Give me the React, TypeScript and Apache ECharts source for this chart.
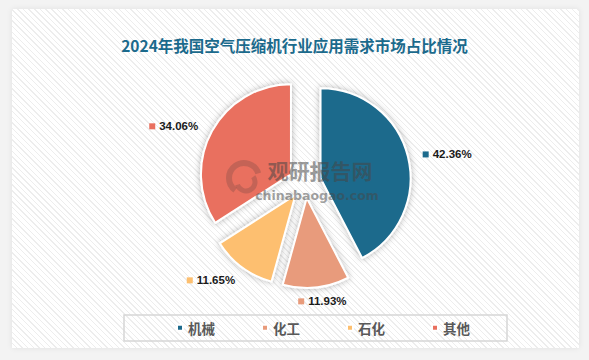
import React, { useEffect, useRef } from 'react';
import * as echarts from 'echarts';

const categories = ['机械', '化工', '石化', '其他'];
const shares = [42.36, 11.93, 11.65, 34.06];
const colors = ['#1c6a8c', '#e89b7b', '#fdbf6f', '#e9705f'];
const titleText = '2024年我国空气压缩机行业应用需求市场占比情况';
const watermarkMain = '观研报告网';
const watermarkSub = 'chinabaogao.com';

export default function App() {
  const ref = useRef<HTMLDivElement>(null);
  useEffect(() => {
    const chart = echarts.init(ref.current!, undefined, { renderer: 'svg' });
    const rich: any = {
      v: {
        fontSize: 11.5,
        fontWeight: 'bold',
        color: '#1a1a1a',
        fontFamily: '"Liberation Sans", Arial, sans-serif',
        padding: [0, 0, 0, 4],
        verticalAlign: 'middle',
      },
    };
    colors.forEach((c, i) => {
      rich['m' + i] = { width: 6, height: 6, backgroundColor: c, verticalAlign: 'middle' };
    });
    chart.setOption({
      animation: false,
      color: colors,
      title: {
        text: titleText,
        left: 'center',
        top: 32,
        textStyle: {
          fontSize: 15.5,
          fontWeight: 'bold',
          color: '#1b6a8c',
          fontFamily: '"Noto Sans CJK SC", sans-serif',
        },
      },
      legend: {
        data: categories,
        left: 176,
        top: 321,
        padding: 0,
        icon: 'rect',
        itemWidth: 6,
        itemHeight: 6,
        itemGap: 46,
        selectedMode: false,
        textStyle: {
          fontSize: 13.5,
          fontWeight: 'bold',
          color: '#595959',
          fontFamily: '"Noto Sans CJK SC", sans-serif',
        },
      },
      graphic: [
        {
          type: 'rect',
          z: -1,
          shape: { x: 124, y: 315, width: 383, height: 26 },
          style: { fill: 'none', stroke: '#d6d6d6', lineWidth: 1.5 },
        },
        {
          type: 'arc',
          z: 100,
          shape: { cx: 244, cy: 178, r: 15, startAngle: Math.PI * 0.7, endAngle: Math.PI * 1.9 },
          style: { stroke: 'rgba(150,85,75,0.45)', lineWidth: 6, fill: 'none' },
        },
        {
          type: 'arc',
          z: 100,
          shape: { cx: 246, cy: 182, r: 9, startAngle: Math.PI * 1.8, endAngle: Math.PI * 2.9 },
          style: { stroke: 'rgba(150,85,75,0.45)', lineWidth: 5, fill: 'none' },
        },
        {
          type: 'text',
          z: 100,
          x: 320,
          y: 170,
          style: {
            text: watermarkMain,
            align: 'center',
            verticalAlign: 'middle',
            font: 'bold 21px "Noto Sans CJK SC", sans-serif',
            fill: 'rgba(70,70,70,0.55)',
          },
        },
        {
          type: 'text',
          z: 100,
          x: 317,
          y: 195,
          style: {
            text: watermarkSub,
            align: 'center',
            verticalAlign: 'middle',
            font: 'bold 12.5px "DejaVu Sans", sans-serif',
            fill: 'rgba(70,70,70,0.5)',
          },
        },
      ],
      series: [
        {
          type: 'pie',
          center: [305, 182],
          radius: 90,
          startAngle: 90,
          selectedMode: 'multiple',
          selectedOffset: 16,
          data: categories.map((n, i) => ({ name: n, value: shares[i], selected: true })),
          itemStyle: {
            borderColor: '#fff',
            borderWidth: 2,
            shadowBlur: 6,
            shadowColor: 'rgba(0,0,0,0.3)',
          },
          select: { itemStyle: { borderColor: '#fff', borderWidth: 2 } },
          emphasis: { disabled: true },
          label: {
            position: 'outside',
            formatter: (p: any) => `{m${p.dataIndex}|}{v|${Number(p.value).toFixed(2)}%}`,
            rich,
            distanceToLabelLine: 5,
          },
          labelLine: { show: false, length: 10, length2: 0 },
          labelLayout: (p: any) => {
            if (p.dataIndex === 1) return { dx: -24, dy: 4 };
            if (p.dataIndex === 2) return { dx: 4, dy: 5 };
            return {};
          },
        },
      ],
    });
    return () => chart.dispose();
  }, []);

  return (
    <div style={{ position: 'fixed', left: 0, top: 0, width: 589, height: 360, background: '#f3f3f3' }}>
      <div
        style={{
          position: 'absolute',
          left: 12,
          top: 9,
          width: 567,
          height: 339,
          background:
            'repeating-linear-gradient(45deg, #ffffff 0px, #ffffff 3px, #ededed 3px, #ededed 4px)',
          boxShadow: '0 0 6px rgba(0,0,0,0.08)',
        }}
      />
      <div ref={ref} style={{ position: 'absolute', left: 0, top: 0, width: 589, height: 360 }} />
    </div>
  );
}
